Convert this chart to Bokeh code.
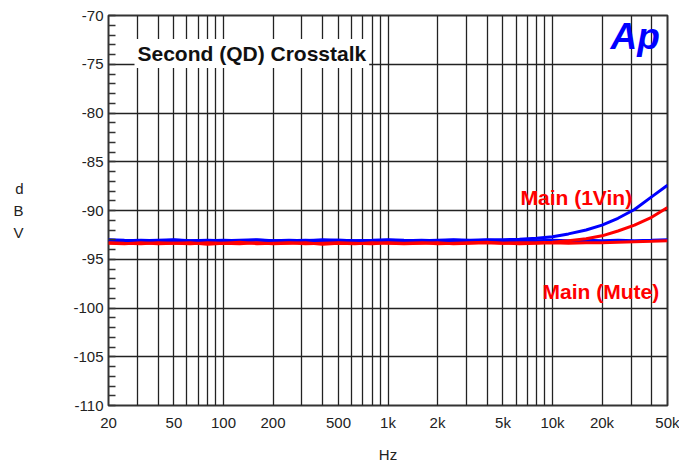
from bokeh.plotting import figure
from bokeh.models import FixedTicker, Label, Range1d
from bokeh.embed import file_html
from bokeh.resources import INLINE

freq = [20, 25, 31.5, 40, 50, 63, 80, 100, 125, 160, 200, 250, 315, 400, 500, 630, 800,
        1000, 1250, 1600, 2000, 2500, 3150, 4000, 5000, 6300, 8000, 10000, 12500, 16000,
        20000, 25000, 31500, 40000, 50000]

blue_1vin = [-93.0, -93.05, -93.1, -93.05, -93.0, -93.1, -93.05, -93.1, -93.05, -93.0, -93.1,
             -93.05, -93.1, -93.0, -93.05, -93.1, -93.05, -93.0, -93.05, -93.1, -93.05, -93.0,
             -93.05, -93.0, -93.0, -92.95, -92.85, -92.7, -92.4, -92.0, -91.5, -90.8, -89.9,
             -88.6, -87.4]
blue_mute = [-93.05, -93.1, -93.05, -93.1, -93.05, -93.1, -93.1, -93.05, -93.1, -93.05, -93.1,
             -93.1, -93.05, -93.1, -93.05, -93.1, -93.1, -93.05, -93.1, -93.05, -93.1, -93.05,
             -93.1, -93.05, -93.1, -93.05, -93.1, -93.05, -93.1, -93.05, -93.1, -93.05, -93.1,
             -93.05, -93.0]
red_1vin = [-93.3, -93.35, -93.4, -93.3, -93.35, -93.4, -93.3, -93.35, -93.25, -93.4, -93.35,
            -93.3, -93.4, -93.35, -93.3, -93.35, -93.4, -93.3, -93.35, -93.3, -93.4, -93.35,
            -93.3, -93.25, -93.35, -93.3, -93.3, -93.25, -93.1, -92.9, -92.6, -92.1, -91.5,
            -90.7, -89.7]
red_mute = [-93.35, -93.4, -93.3, -93.4, -93.35, -93.3, -93.45, -93.35, -93.4, -93.3, -93.4,
            -93.35, -93.3, -93.45, -93.35, -93.4, -93.3, -93.35, -93.4, -93.35, -93.3, -93.4,
            -93.35, -93.3, -93.35, -93.4, -93.35, -93.3, -93.35, -93.3, -93.3, -93.25, -93.2,
            -93.15, -93.1]

x_grid = [20, 30, 40, 50, 60, 70, 80, 90, 100, 200, 300, 400, 500, 600, 700, 800, 900,
          1000, 2000, 3000, 4000, 5000, 6000, 7000, 8000, 9000, 10000, 20000, 30000, 40000, 50000]
x_labels = {20: "20", 50: "50", 100: "100", 200: "200", 500: "500", 1000: "1k", 2000: "2k",
            5000: "5k", 10000: "10k", 20000: "20k", 50000: "50k"}
y_ticks = [-110, -105, -100, -95, -90, -85, -80, -75, -70]
y_minor = list(range(-110, -69))

p = figure(width=679, height=467, x_axis_type="log", output_backend="svg",
           toolbar_location=None, x_range=Range1d(20, 50000), y_range=Range1d(-110, -70),
           min_border_left=108, min_border_right=12, min_border_top=15, min_border_bottom=62)
p.background_fill_color = "white"
p.border_fill_color = "white"
p.outline_line_color = "#333333"
p.outline_line_width = 2

p.xaxis.ticker = FixedTicker(ticks=x_grid)
p.xaxis.major_label_overrides = {t: x_labels.get(t, "") for t in x_grid}
p.xaxis.major_tick_in = 0
p.xaxis.major_tick_out = 0
p.xaxis.minor_tick_in = 0
p.xaxis.minor_tick_out = 0
p.xaxis.axis_line_color = None
p.xaxis.axis_label = "Hz"
p.xaxis.axis_label_text_font_style = "normal"
p.xaxis.axis_label_text_font = "Liberation Sans"
p.xaxis.axis_label_text_font_size = "15px"
p.xaxis.axis_label_text_color = "#222222"
p.xaxis.axis_label_standoff = 12
p.xaxis.major_label_standoff = 8

p.yaxis.ticker = FixedTicker(ticks=y_ticks, minor_ticks=y_minor)
p.yaxis.major_label_overrides = {t: str(t) for t in y_ticks}
p.yaxis.major_tick_in = 0
p.yaxis.major_tick_out = 0
p.yaxis.minor_tick_in = 7
p.yaxis.minor_tick_out = 0
p.yaxis.minor_tick_line_color = "#333333"
p.yaxis.minor_tick_line_width = 1.5
p.yaxis.axis_line_color = None
p.yaxis.major_label_standoff = 5
p.yaxis.axis_label = "d\nB\nV"
p.yaxis.axis_label_orientation = "horizontal"
p.yaxis.axis_label_text_font_style = "normal"
p.yaxis.axis_label_text_font = "Liberation Sans"
p.yaxis.axis_label_text_font_size = "15px"
p.yaxis.axis_label_text_color = "#222222"
p.yaxis.axis_label_text_align = "center"
p.yaxis.axis_label_text_line_height = 1.3
p.yaxis.axis_label_standoff = 47

for ax in (p.xaxis, p.yaxis):
    ax.major_label_text_font = "Liberation Sans"
    ax.major_label_text_font_size = "15px"
    ax.major_label_text_color = "#222222"

p.xgrid.ticker = FixedTicker(ticks=x_grid)
p.ygrid.ticker = FixedTicker(ticks=y_ticks)
for g in (p.xgrid, p.ygrid):
    g.grid_line_color = "#222222"
    g.grid_line_width = 1.3
    g.grid_line_alpha = 1.0

p.line(freq, blue_mute, line_color="#0000ff", line_width=3)
p.line(freq, blue_1vin, line_color="#0000ff", line_width=3)
p.line(freq, red_mute, line_color="#ff0000", line_width=3)
p.line(freq, red_1vin, line_color="#ff0000", line_width=3)

def lab(text, x, y, **kw):
    p.add_layout(Label(x=x, y=y, x_units="screen", y_units="screen", text=text,
                       text_font="Liberation Sans", **kw))

lab("Second (QD) Crosstalk", 26, 352, text_font_size="21px", text_font_style="bold",
    text_color="#111111", text_baseline="middle", background_fill_color="white",
    padding=3)
lab("Ap", 502, 369, text_font_size="37px", text_font_style="bold italic",
    text_color="#0000ff", text_baseline="middle")
lab("Main (1Vin)", 412, 208, text_font_size="21px", text_font_style="bold",
    text_color="#ff0000", text_baseline="middle")
lab("Main (Mute)", 434, 114, text_font_size="21px", text_font_style="bold",
    text_color="#ff0000", text_baseline="middle")

open("out.html", "w").write(file_html(p, INLINE))
